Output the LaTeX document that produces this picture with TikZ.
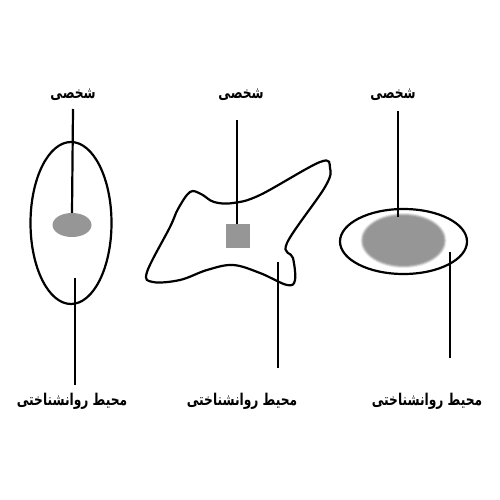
\documentclass[tikz,border=0pt]{standalone}
\usepackage{fontspec}
\usetikzlibrary{shapes.geometric}
\newfontfamily\arabicfont[Script=Arabic]{DejaVu Sans}
\TeXXeTstate=1
\definecolor{fillgray}{RGB}{150,150,150}
\begin{document}
\begin{tikzpicture}[x=1pt,y=-1pt,
  lbl/.style={font=\arabicfont\bfseries\fontsize{13}{15}\selectfont, inner sep=0pt, xscale=0.94, yscale=1.25},
  blbl/.style={font=\arabicfont\bfseries\fontsize{13}{15}\selectfont, inner sep=0pt, xscale=0.94, yscale=1.25},
  outline/.style={draw=black, line width=2.2},
  conn/.style={draw=black, line width=2.2}]
\useasboundingbox[fill=white] (0,0) rectangle (500,500);
% left
\node[lbl] (pL) at (73,95) {\beginR شخصی\endR};
\node[blbl] (eL) at (72,401) {\beginR محیط روانشناختی\endR};
\node[outline, ellipse, minimum width=81, minimum height=162, inner sep=0pt] (oL) at (71,223) {};
\node[fill=fillgray, ellipse, minimum width=39, minimum height=24, inner sep=0pt] (sL) at (72,225) {};
\coordinate (pLs) at (73,109);
\coordinate (eLs) at (75,278);
\coordinate (eLe) at (75,385);
\draw[conn] (pLs) -- (sL.north);
\draw[conn] (eLs) -- (eLe);
% middle
\node[lbl] (pM) at (241,95) {\beginR شخصی\endR};
\node[blbl] (eM) at (242,401) {\beginR محیط روانشناختی\endR};
\draw[outline] plot[smooth cycle, tension=0.6] coordinates {
 (147,272) (170,227) (178,209) (190,192) (201,194) (214,202) (233,203) (260,195)
 (320,162) (330,168) (325,187) (287,243) (293,258) (295,280) (287,285) (260,273)
 (233,265) (207,270) (180,280) (153,282)};
\node[fill=fillgray, minimum width=24, minimum height=24, inner sep=0pt] (sM) at (238,236) {};
\coordinate (pMs) at (237,120);
\coordinate (eMs) at (278,262);
\coordinate (eMe) at (278,368);
\draw[conn] (pMs) -- (sM.north -| pMs);
\draw[conn] (eMs) -- (eMe);
% right
\node[lbl] (pR) at (393,95) {\beginR شخصی\endR};
\node[blbl] (eR) at (427,401) {\beginR محیط روانشناختی\endR};
\foreach \k/\o in {0/0.25,2/0.45,4/0.7,6/1} {
  \fill[fillgray, opacity=\o] (403.5,240.5) ellipse ({43-\k/2} and {27.5-\k/2});
}
\node[outline, ellipse, minimum width=127, minimum height=65, inner sep=0pt] (oR) at (403.5,241.5) {};
\node[inner sep=0pt, minimum width=82, minimum height=51] (sR) at (403.5,240.5) {};
\coordinate (pRs) at (398,111);
\coordinate (pRe) at (398,217);
\coordinate (eRs) at (450,252);
\coordinate (eRe) at (450,358);
\draw[conn] (pRs) -- (pRe);
\draw[conn] (eRs) -- (eRe);
\end{tikzpicture}
\end{document}
